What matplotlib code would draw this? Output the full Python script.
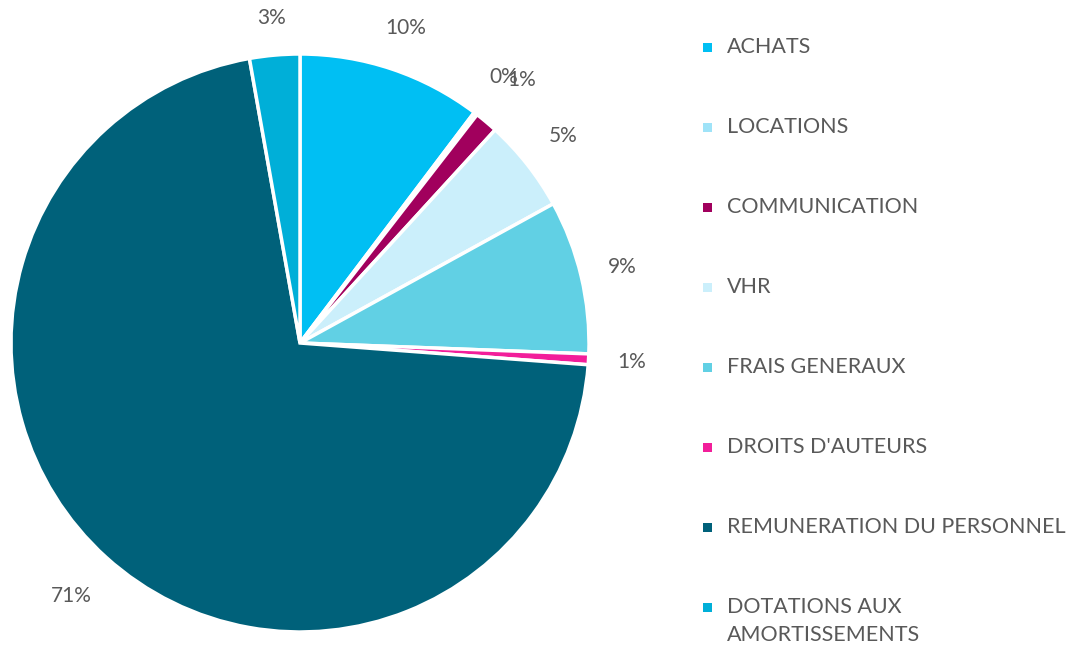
import numpy as np
import matplotlib.pyplot as plt
from matplotlib.patches import Rectangle

categories = ["ACHATS", "LOCATIONS", "COMMUNICATION", "VHR", "FRAIS GENERAUX",
              "DROITS D'AUTEURS", "REMUNERATION DU PERSONNEL",
              "DOTATIONS AUX\nAMORTISSEMENTS"]
values = [10.3, 0.2, 1.3, 5.2, 8.6, 0.6, 71.0, 2.8]
colors = ["#00BFF3", "#9FE3F8", "#A1005D", "#CBEFFB", "#61D0E4",
          "#F21E9A", "#00617A", "#00AFD8"]
label_dist = [1.15, 1.16, 1.19, 1.16, 1.145, 1.15, 1.18, 1.13]

W, H = 1078, 647
fig = plt.figure(figsize=(W / 100, H / 100), dpi=100)
plt.rcParams['font.family'] = ['Lato', 'DejaVu Sans']
txt_col = "#595959"

cx, cy, r = 300, 343, 289
ax = fig.add_axes([(cx - r) / W, (H - cy - r) / H, 2 * r / W, 2 * r / H])

total = sum(values)
pct_labels = ["%d%%" % round(v / total * 100) for v in values]

wedges, _ = ax.pie(values, colors=colors, startangle=90, counterclock=False,
                   wedgeprops=dict(edgecolor="white", linewidth=2.5))
for w, lab, d in zip(wedges, pct_labels, label_dist):
    ang = np.deg2rad((w.theta1 + w.theta2) / 2)
    ax.text(d * np.cos(ang), d * np.sin(ang), lab, color=txt_col, fontsize=15,
            ha="center", va="center")
ax.set_xlim(-1, 1)
ax.set_ylim(-1, 1)
ax.set_aspect("equal")

# legend drawn row by row
x_box, x_txt = 703, 727
for i, (name, c) in enumerate(zip(categories, colors)):
    yc = 47 + i * 80
    fig.patches.append(Rectangle((x_box / W, 1 - (yc + 5) / H), 9 / W, 9 / H,
                                 transform=fig.transFigure, facecolor=c,
                                 edgecolor="none"))
    for k, line in enumerate(name.split("\n")):
        fig.text(x_txt / W, 1 - (yc + k * 28) / H, line, color=txt_col,
                 fontsize=15.5, va="center", ha="left")

fig.savefig("out.png", dpi=100)
